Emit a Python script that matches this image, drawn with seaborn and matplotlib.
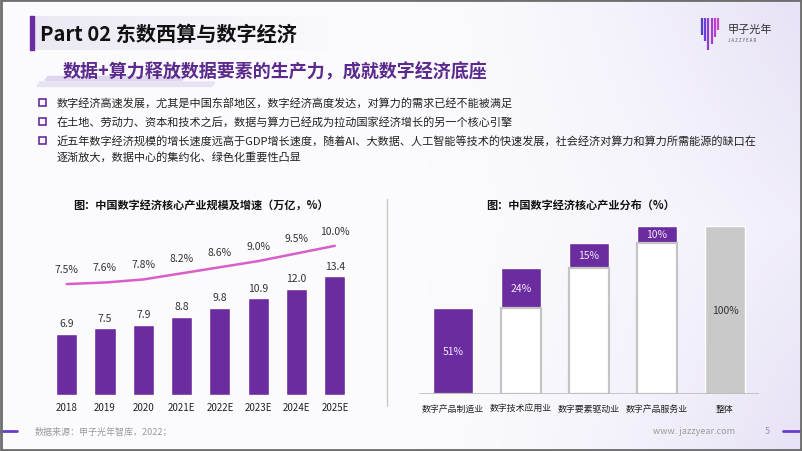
import numpy as np
import pandas as pd
import matplotlib
matplotlib.use('Agg')
import matplotlib.pyplot as plt
import seaborn as sns
from matplotlib.patches import Rectangle, Polygon

# ---------------- data ----------------
years = ['2018', '2019', '2020', '2021E', '2022E', '2023E', '2024E', '2025E']
scale_values = [6.9, 7.5, 7.9, 8.8, 9.8, 10.9, 12.0, 13.4]      # 万亿
growth_rates = [7.5, 7.6, 7.8, 8.2, 8.6, 9.0, 9.5, 10.0]        # %

industries = ['数字产品制造业', '数字技术应用业', '数字要素驱动业', '数字产品服务业', '整体']
shares = [51, 24, 15, 10, 100]

title_text = 'Part 02 东数西算与数字经济'
subtitle_text = '数据+算力释放数据要素的生产力，成就数字经济底座'
bullet_texts = [
    '数字经济高速发展，尤其是中国东部地区，数字经济高度发达，对算力的需求已经不能被满足',
    '在土地、劳动力、资本和技术之后，数据与算力已经成为拉动国家经济增长的另一个核心引擎',
    '近五年数字经济规模的增长速度远高于GDP增长速度，随着AI、大数据、人工智能等技术的快速发展，社会经济对算力和算力所需能源的缺口在\n逐渐放大，数据中心的集约化、绿色化重要性凸显',
]
left_title = '图：中国数字经济核心产业规模及增速（万亿，%）'
right_title = '图：中国数字经济核心产业分布（%）'
source_text = '数据来源：甲子光年智库，2022；'

# ---------------- style ----------------
sns.set_theme(style='white')
plt.rcParams['font.family'] = ['Noto Sans CJK SC', 'DejaVu Sans']
plt.rcParams['axes.unicode_minus'] = False

PURPLE = '#6a2c9e'
PINK = '#d85fc8'
GRAY = '#c9c9c9'
W, H = 802, 452

fig = plt.figure(figsize=(8.02, 4.52), dpi=100)


def rect_axes(x0, y0, x1, y1):
    return [x0 / W, 1 - y1 / H, (x1 - x0) / W, (y1 - y0) / H]


# ---------------- background (pixel coordinates) ----------------
bg = fig.add_axes([0, 0, 1, 1])
bg.set_xlim(0, W)
bg.set_ylim(H, 0)
bg.axis('off')
X, Y = np.meshgrid(np.linspace(0, 1, 200), np.linspace(0, 1, 120))
w = np.clip((X - 0.5) / 0.5, 0, 1) ** 1.6 * (0.5 + 0.5 * np.abs(Y - 0.5) * 2)
base = np.array([0.985, 0.985, 0.994])
lav = np.array([0.905, 0.885, 0.965])
img = base[None, None, :] * (1 - w[..., None]) + lav[None, None, :] * w[..., None]
bg.imshow(img, extent=[0, W, H, 0], aspect='auto', zorder=0, interpolation='bilinear')

# title panel gradient
grad = np.zeros((2, 100, 4))
grad[..., 0] = 0.925
grad[..., 1] = 0.91
grad[..., 2] = 0.955
grad[..., 3] = np.linspace(1, 0, 100)[None, :]
bg.imshow(grad, extent=[33, 345, 51, 17], aspect='auto', zorder=1)
bg.add_patch(Rectangle((30, 17), 3.5, 34, color=PURPLE, zorder=2))
bg.text(40, 34, title_text, fontsize=14.5, fontweight='bold', color='#111111',
        va='center', ha='left', zorder=3)

# subtitle decoration and text
bg.add_patch(Polygon([(48, 77.5), (185, 77.5), (182, 81.5), (45, 81.5)],
                     closed=True, color='#d9d0ec', alpha=0.8, zorder=1))
bg.add_patch(Polygon([(40, 83), (215, 83), (212, 87.5), (37, 87.5)],
                     closed=True, color='#e4def2', alpha=0.8, zorder=1))
bg.text(63, 72, subtitle_text, fontsize=13, fontweight='bold', color='#5b2a8c',
        va='center', ha='left', zorder=3)

# bullets
bullet_y = [103, 122, 141]
for yy, txt in zip(bullet_y, bullet_texts):
    bg.add_patch(Rectangle((39, yy - 3.5), 7, 7, fill=False, edgecolor=PURPLE, lw=1.2, zorder=3))
    for k, line in enumerate(txt.split('\n')):
        bg.text(57, yy + 16 * k, line, fontsize=8, color='#222222', va='center',
                ha='left', zorder=3)

# logo
stripe_x = np.linspace(702, 718, 6)
stripe_bottom = [36, 42, 51, 45, 38, 31]
stripe_cols = ['#4f3fd0', '#6a3fd6', '#8a3fd6', '#a23fd0', '#b840cc', '#c845c8']
for sx, sb, sc in zip(stripe_x, stripe_bottom, stripe_cols):
    bg.plot([sx, sx], [19, sb], color=sc, lw=1.6, solid_capstyle='butt', zorder=3)
bg.text(728, 30, '甲子光年', fontsize=8, color='#333333', va='center', ha='left', zorder=3)
bg.text(728.5, 41, 'J A Z Z Y E A R', fontsize=3.2, color='#555555', va='center', ha='left', zorder=3)

# footer
bg.plot([0, 17], [432, 432], color='#6a3cc8', lw=2, zorder=3)
bg.plot([783, 802], [432, 432], color='#6a3cc8', lw=2, zorder=3)
bg.text(35, 432, source_text, fontsize=6.5, color='#9a9a9a', va='center', ha='left', zorder=3)
bg.text(653, 432, 'www. jazzyear.com', fontsize=6.5, color='#9a9a9a', va='center', ha='left', zorder=3)
bg.text(767, 432, '5', fontsize=6.5, color='#9a9a9a', va='center', ha='center', zorder=3)

# separator between charts
bg.plot([387, 387], [200, 407], color='#c8c8c8', lw=1, zorder=2)

# chart titles
bg.text(201, 205, left_title, fontsize=8.0, fontweight='bold', color='#111111',
        ha='center', va='center', zorder=3)
bg.text(581, 205, right_title, fontsize=8.0, fontweight='bold', color='#111111',
        ha='center', va='center', zorder=3)

# frame
bg.add_patch(Rectangle((1, 1), W - 2, H - 2, fill=False, edgecolor='#6d6d6d', lw=2, zorder=5))

# ---------------- left chart: bars + growth line ----------------
ax1 = fig.add_axes(rect_axes(47.5, 215, 354, 396))
ax1.set_facecolor('none')
df_left = pd.DataFrame({'year': years, 'scale': scale_values, 'growth': growth_rates})
sns.barplot(data=df_left, x='year', y='scale', color=PURPLE, saturation=1,
            width=0.55, ax=ax1)
ax1.set_ylim(0, 20.4)
ax1.bar_label(ax1.containers[0], labels=[f'{v:.1f}' for v in scale_values],
              padding=4, fontsize=7.5, color='#333333')
ax1.set_xlabel('')
ax1.set_ylabel('')
ax1.set_yticks([])
ax1.tick_params(axis='x', length=0, pad=5, labelsize=7, labelcolor='#222222')
for s in ax1.spines.values():
    s.set_visible(False)

ax1b = ax1.twinx()
ax1b.set_facecolor('none')
pos = np.arange(len(years))
sns.lineplot(x=pos, y=df_left['growth'], color=PINK, lw=1.8, ax=ax1b)
ax1b.set_ylim(0.245, 12.08)
for xi, v in zip(pos, growth_rates):
    ax1b.annotate(f'{v:.1f}%', (xi, v), xytext=(0, 11), textcoords='offset points',
                  ha='center', va='center', fontsize=7.5, color='#333333')
ax1b.set_yticks([])
ax1b.set_ylabel('')
for s in ax1b.spines.values():
    s.set_visible(False)
ax1.set_xlim(-0.5, len(years) - 0.5)

# ---------------- right chart: waterfall ----------------
parts = shares[:-1]
tops = list(np.cumsum(parts)) + [shares[-1]]
bottoms = [0] + list(np.cumsum(parts)[:-1]) + [0]

ax2 = fig.add_axes(rect_axes(419, 215, 759, 395))
ax2.set_facecolor('none')
df_right = pd.DataFrame({'industry': industries, 'top': tops, 'bottom': bottoms, 'share': shares})
sns.barplot(data=df_right, x='industry', y='top', hue='industry',
            palette=[PURPLE] * len(parts) + [GRAY], saturation=1, width=0.58,
            legend=False, ax=ax2)
sns.barplot(data=df_right, x='industry', y='bottom', color='white', saturation=1,
            width=0.58, edgecolor='#c4c4c4', linewidth=1.6, ax=ax2)
ax2.set_ylim(0, 107.1)
for i, (b, t, v) in enumerate(zip(bottoms, tops, shares)):
    is_total = i == len(shares) - 1
    ax2.text(i, (b + t) / 2, f'{v}%', ha='center', va='center', fontsize=7.5,
             color='#333333' if is_total else '#f3e9ff')
ax2.axhline(0, color='#bdbdbd', lw=1.2)
ax2.set_xlabel('')
ax2.set_ylabel('')
ax2.set_yticks([])
ax2.tick_params(axis='x', length=0, pad=7, labelsize=6.4, labelcolor='#222222')
for s in ax2.spines.values():
    s.set_visible(False)
ax2.set_xlim(-0.5, len(industries) - 0.5)

fig.savefig('out.png', dpi=100)
